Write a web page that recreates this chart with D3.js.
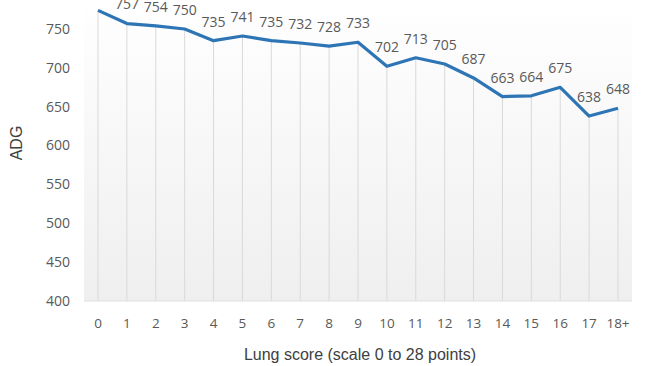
<!DOCTYPE html>
<html>
<head>
<meta charset="utf-8">
<script src="https://cdn.jsdelivr.net/npm/d3@7"></script>
<style>
  body { margin: 0; background: #fff; }
  svg { display: block; }
</style>
</head>
<body>
<div id="chart"></div>
<script>
// lung score categories and average daily gain
var categories = ['0','1','2','3','4','5','6','7','8','9','10','11','12','13','14','15','16','17','18+'];
var adg = [774, 757, 754, 750, 735, 741, 735, 732, 728, 733, 702, 713, 705, 687, 663, 664, 675, 638, 648];
var yTicks = [400, 450, 500, 550, 600, 650, 700, 750];

var width = 650, height = 366;
var margin = {top: 0, right: 18, bottom: 64, left: 84};

var svg = d3.select('#chart').append('svg')
  .attr('width', width)
  .attr('height', height);

// plot area gradient
var defs = svg.append('defs');
var grad = defs.append('linearGradient')
  .attr('id', 'bg')
  .attr('x1', 0).attr('y1', 0).attr('x2', 0).attr('y2', 1);
grad.append('stop').attr('offset', '0%').attr('stop-color', '#ffffff');
grad.append('stop').attr('offset', '100%').attr('stop-color', '#efefef');

var x = d3.scalePoint()
  .domain(categories)
  .range([98, 618]);

var y = d3.scaleLinear()
  .domain([400, 750])
  .range([301, 29]);

svg.append('rect')
  .attr('x', margin.left)
  .attr('y', 0)
  .attr('width', 632 - margin.left)
  .attr('height', y(400))
  .attr('fill', 'url(#bg)');

// drop lines from each point down to the axis
svg.append('g').selectAll('line')
  .data(adg)
  .enter().append('line')
  .attr('x1', function(d, i){ return x(categories[i]); })
  .attr('x2', function(d, i){ return x(categories[i]); })
  .attr('y1', function(d){ return y(d); })
  .attr('y2', y(400))
  .attr('stroke', '#d9d9d9')
  .attr('stroke-width', 1);

// baseline
svg.append('line')
  .attr('x1', margin.left).attr('x2', 632)
  .attr('y1', y(400)).attr('y2', y(400))
  .attr('stroke', '#e0e0e0')
  .attr('stroke-width', 1);

// y axis labels
svg.append('g').selectAll('text')
  .data(yTicks)
  .enter().append('text')
  .attr('x', 70)
  .attr('y', function(d){ return y(d); })
  .attr('dy', '0.35em')
  .attr('text-anchor', 'end')
  .attr('font-family', 'Open Sans, sans-serif')
  .attr('font-size', 14)
  .attr('fill', '#595959')
  .text(function(d){ return d; });

// x axis labels
svg.append('g').selectAll('text')
  .data(categories)
  .enter().append('text')
  .attr('x', function(d){ return x(d); })
  .attr('y', 323)
  .attr('dy', '0.35em')
  .attr('text-anchor', 'middle')
  .attr('font-family', 'Open Sans, sans-serif')
  .attr('font-size', 13.5)
  .attr('fill', '#595959')
  .text(function(d){ return d; });

// the line
var line = d3.line()
  .x(function(d, i){ return x(categories[i]); })
  .y(function(d){ return y(d); });

svg.append('path')
  .datum(adg)
  .attr('d', line)
  .attr('fill', 'none')
  .attr('stroke', '#2e75b6')
  .attr('stroke-width', 3.2)
  .attr('stroke-linejoin', 'round');

// data labels
svg.append('g').selectAll('text')
  .data(adg)
  .enter().append('text')
  .attr('x', function(d, i){ return x(categories[i]); })
  .attr('y', function(d){ return y(d) - 19; })
  .attr('dy', '0.35em')
  .attr('text-anchor', 'middle')
  .attr('font-family', 'Open Sans, sans-serif')
  .attr('font-size', 14)
  .attr('fill', '#595959')
  .text(function(d){ return d; });

// axis titles
svg.append('text')
  .attr('x', 360)
  .attr('y', 354)
  .attr('dy', '0.35em')
  .attr('text-anchor', 'middle')
  .attr('font-family', 'Liberation Sans, Arial, sans-serif')
  .attr('font-size', 16)
  .attr('fill', '#404040')
  .text('Lung score (scale 0 to 28 points)');

svg.append('text')
  .attr('transform', 'translate(16,143) rotate(-90)')
  .attr('dy', '0.35em')
  .attr('text-anchor', 'middle')
  .attr('font-family', 'Liberation Sans, Arial, sans-serif')
  .attr('font-size', 16)
  .attr('fill', '#404040')
  .text('ADG');
</script>
</body>
</html>
